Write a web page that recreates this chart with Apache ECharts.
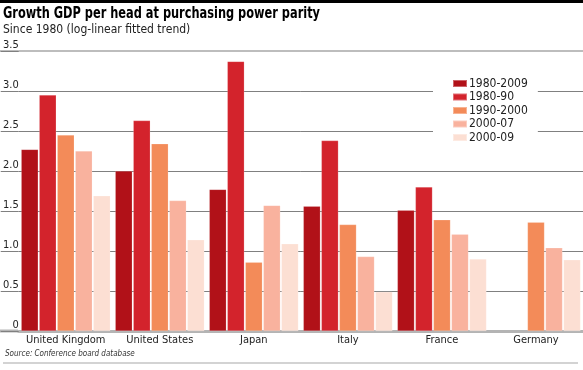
<!DOCTYPE html>
<html><head><meta charset="utf-8">
<script src="https://cdn.jsdelivr.net/npm/echarts@6/dist/echarts.min.js"></script>
<style>html,body{margin:0;padding:0;background:#fff}#c{width:583px;height:370px}</style>
</head><body><div id="c"></div>
<script>
const FONT = '"DejaVu Sans Condensed","DejaVu Sans","Liberation Sans",sans-serif';
const titleText = 'Growth GDP per head at purchasing power parity';
const subtitleText = 'Since 1980 (log-linear fitted trend)';
const sourceText = 'Source: Conference board database';
const categories = ['United Kingdom','United States','Japan','Italy','France','Germany'];
const seriesNames = ['1980-2009','1980-90','1990-2000','2000-07','2000-09'];
const s1980_2009 = [2.27, 2.00, 1.77, 1.56, 1.51, null];
const s1980_90   = [2.95, 2.63, 3.37, 2.38, 1.80, null];
const s1990_2000 = [2.45, 2.34, 0.86, 1.33, 1.39, 1.36];
const s2000_07   = [2.25, 1.63, 1.57, 0.93, 1.21, 1.04];
const s2000_09   = [1.69, 1.14, 1.09, 0.49, 0.90, 0.89];
const colors = ['#b11118','#d3232c','#f38b59','#f9b29e','#fcdfd3'];
const yTicks = [0, 0.5, 1.0, 1.5, 2.0, 2.5, 3.0, 3.5];
const yTickLabels = ['0','0.5','1.0','1.5','2.0','2.5','3.0','3.5'];
const allData = [s1980_2009, s1980_90, s1990_2000, s2000_07, s2000_09];

const chart = echarts.init(document.getElementById('c'));
chart.setOption({
  animation: false,
  backgroundColor: '#fff',
  textStyle: { fontFamily: FONT },
  legend: {
    orient: 'vertical', left: 433, top: 69,
    padding: [8, 10, 8, 19],
    backgroundColor: '#fff',
    itemWidth: 14, itemHeight: 7, itemGap: 0.5,
    icon: 'rect',
    data: seriesNames,
    textStyle: { fontFamily: FONT, fontSize: 12, color: '#222', lineHeight: 13, padding: [0,0,0,-3] }
  },
  grid: { left: 18, right: -3, top: 51, bottom: 39, containLabel: false },
  xAxis: [{
    type: 'category', data: categories,
    axisLine: { lineStyle: { color: '#b4b4b4', width: 3 } },
    axisTick: { show: false },
    axisLabel: { fontFamily: FONT, fontSize: 11, color: '#222', margin: 4, interval: 0 }
  }, {
    type: 'category', data: categories, position: 'top',
    axisLine: { lineStyle: { color: '#bdbdbd', width: 2 } },
    axisTick: { show: false }, axisLabel: { show: false }
  }],
  yAxis: {
    type: 'value', min: 0, max: 3.5, interval: 0.5,
    axisLine: { show: false },
    axisTick: { show: true, length: 18, lineStyle: { color: '#808080' } },
    splitLine: { lineStyle: { color: '#808080', width: 1 } },
    axisLabel: {
      fontFamily: FONT, fontSize: 11, color: '#222', align: 'right', verticalAlign: 'bottom',
      margin: 0, padding: [0,0,0,0],
      formatter: v => {
        const i = yTicks.findIndex(t => Math.abs(t - v) < 1e-9);
        return i < 0 ? '' : yTickLabels[i];
      }
    }
  },
  series: seriesNames.map((n, i) => ({
    name: n, type: 'bar', data: allData[i],
    barWidth: 17, barGap: '6%', barCategoryGap: '5%',
    itemStyle: { color: colors[i], borderColor: 'rgba(255,255,255,0.35)', borderWidth: 0.5 }
  })),
  graphic: [
    { type: 'rect', shape: { x: 0, y: 0, width: 583, height: 3 }, style: { fill: '#000' } },
    { type: 'text', x: 3, y: 6, scaleX: 0.79, style: { text: titleText, font: 'bold 16px ' + FONT, fill: '#000', verticalAlign: 'top' } },
    { type: 'text', x: 3, y: 24, style: { text: subtitleText, font: '12px ' + FONT, fill: '#222', verticalAlign: 'top' } },
    { type: 'line', shape: { x1: 0, y1: 331, x2: 18, y2: 331 }, style: { stroke: '#b4b4b4', lineWidth: 3 } },
    { type: 'line', shape: { x1: 0, y1: 51, x2: 18, y2: 51 }, style: { stroke: '#bdbdbd', lineWidth: 2 } },
    { type: 'text', x: 5, y: 350, style: { text: sourceText, font: 'italic 8px ' + FONT, fill: '#333', verticalAlign: 'top' } },
    { type: 'line', shape: { x1: 3, y1: 363, x2: 578, y2: 363 }, style: { stroke: '#c4c4c4', lineWidth: 1.5 } }
  ]
});
</script></body></html>
